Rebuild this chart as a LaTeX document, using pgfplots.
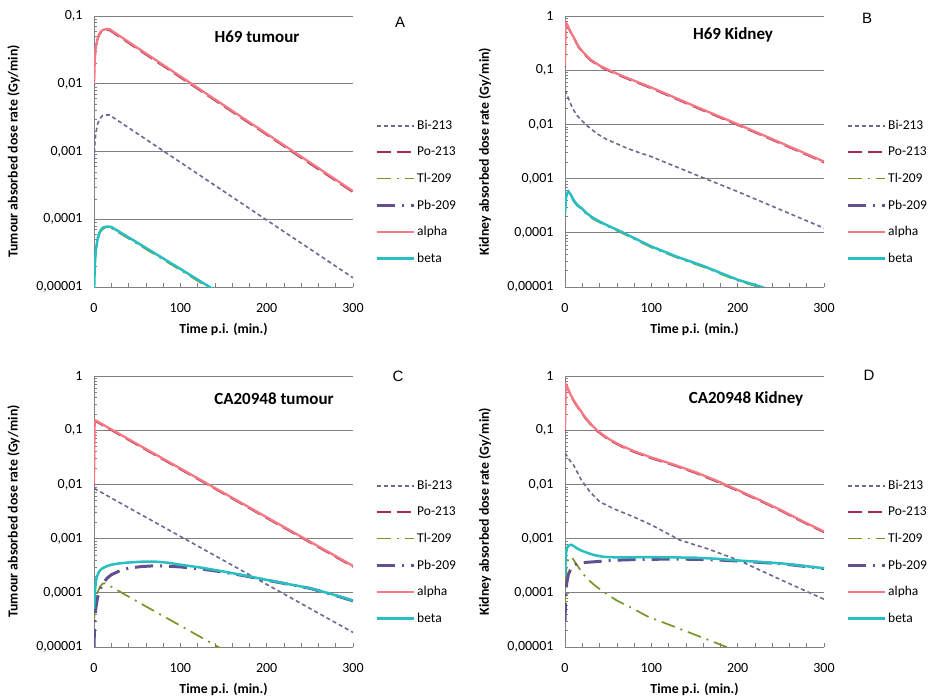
\documentclass[border=0pt]{standalone}
\usepackage{fontspec}
\setmainfont{Carlito}
\newfontfamily\letterfont{Liberation Sans}
\usepackage{pgfplots}
\pgfplotsset{compat=1.18}
\definecolor{biC}{RGB}{105,105,145}
\definecolor{poC}{RGB}{165,40,85}
\definecolor{tlC}{RGB}{120,150,40}
\definecolor{pbC}{RGB}{100,80,145}
\definecolor{alC}{RGB}{245,120,130}
\definecolor{beC}{RGB}{40,190,195}
\definecolor{axC}{RGB}{128,128,128}
\pgfplotsset{
 sBi/.style={color=biC, line width=1.6pt, dash pattern=on 4pt off 3pt},
 sPo/.style={color=poC, line width=1.6pt, dash pattern=on 14pt off 6pt},
 sTl/.style={color=tlC, line width=1.7pt, dash pattern=on 14pt off 6pt on 2pt off 6pt},
 sPb/.style={color=pbC, line width=3pt, dash pattern=on 18pt off 7pt on 2pt off 7pt},
 sAl/.style={color=alC, line width=2.3pt},
 sBe/.style={color=beC, line width=2.5pt},
 every axis/.append style={
  width=259pt, height=271pt, scale only axis, anchor=south west,
  xmin=0, xmax=300,
  axis x line*=bottom, axis y line*=left,
  axis line style={color=axC, line width=0.8pt, -},
  xtick={0,20,...,300}, xticklabels={0,,,,,100,,,,,200,,,,,300},
  tick align=inside, major tick length=4pt, minor tick length=3pt,
  tick style={color=axC, line width=0.6pt},
  ymajorgrids, major grid style={color=axC, line width=0.8pt},
  ticklabel style={font=\fontsize{14}{16}\selectfont},
  yticklabel style={xshift=-8pt},
  xticklabel style={yshift=-13pt},
  label style={font=\bfseries\fontsize{13.8}{16}\selectfont},
  xlabel style={at={(axis description cs:0.5,-0.155)}, anchor=center},
  ylabel style={at={(axis description cs:-0.31,0.5)}, anchor=center},
  legend style={draw=none, fill=none, at={(axis description cs:1.085,0.623)}, anchor=north west,
    font=\fontsize{13.5}{15}\selectfont, row sep=11.8pt, inner sep=0pt},
  legend cell align=left,
 },
}
\begin{document}
\begin{tikzpicture}
\path[use as bounding box] (0,0) rectangle (929pt,699pt);
% ---------------- A ----------------
\begin{axis}[ymode=log, at={(94pt,412pt)},
  legend image code/.code={\draw[#1] (0pt,0pt) -- (37pt,0pt);},
  ymin=1e-5, ymax=1e-1,
  ytick={1e-5,1e-4,1e-3,1e-2,1e-1},
  yticklabels={{0,00001},{0,0001},{0,001},{0,01},{0,1}},
  minor ytick={2e-5,3e-5,4e-5,5e-5,6e-5,7e-5,8e-5,9e-5,2e-4,3e-4,4e-4,5e-4,6e-4,7e-4,8e-4,9e-4,2e-3,3e-3,4e-3,5e-3,6e-3,7e-3,8e-3,9e-3,2e-2,3e-2,4e-2,5e-2,6e-2,7e-2,8e-2,9e-2},
  xlabel={Time p.i. (min.)}, ylabel={Tumour absorbed dose rate (Gy/min)}]
\addplot[sBi] coordinates {(0,0.0006)(1,0.0013)(2,0.0018)(4,0.0025)(6,0.0029)(8,0.0032)(10,0.0034)(14,0.00345)(18,0.00346)(25,0.00301)(50,0.00185)(100,0.000692)(150,0.00026)(200,0.0000973)(250,0.0000365)(300,0.0000137)};
\addplot[sPo] coordinates {(0,0.0096)(1,0.023)(2,0.0326)(4,0.0442)(6,0.0518)(8,0.0566)(10,0.0595)(14,0.0614)(18,0.0614)(25,0.0534)(50,0.0327)(100,0.01235)(150,0.00466)(200,0.00176)(250,0.00066)(300,0.00025)};
\addplot[sTl] coordinates {(0,0.0000077)(1,0.0000211)(2,0.0000326)(4,0.000048)(6,0.0000595)(8,0.0000672)(11,0.000073)(15,0.0000749)(20,0.0000739)(50,0.0000435)(100,0.0000178)(135,0.0000094)(150,0.0000072)};
\addplot[sPb] coordinates {(0,0.0000001)(5,0.0000015)(20,0.000003)(100,0.000003)(300,0.000002)};
\addplot[sAl] coordinates {(0,0.010)(1,0.024)(2,0.034)(4,0.046)(6,0.054)(8,0.059)(10,0.062)(14,0.064)(18,0.064)(25,0.0556)(50,0.0341)(100,0.01286)(150,0.00485)(200,0.00183)(250,0.00069)(300,0.00026)};
\addplot[sBe] coordinates {(0,0.000008)(1,0.000022)(2,0.000034)(4,0.00005)(6,0.000062)(8,0.00007)(11,0.000076)(15,0.000078)(20,0.000077)(50,0.0000453)(100,0.0000185)(135,0.0000098)(150,0.0000075)};
\legend{Bi-213,Po-213,Tl-209,Pb-209,alpha,beta}
\end{axis}
% ---------------- B ----------------
\begin{axis}[ymode=log, at={(565pt,412pt)},
  legend image code/.code={\draw[#1] (0pt,0pt) -- (37pt,0pt);},
  ymin=1e-5, ymax=1,
  ytick={1e-5,1e-4,1e-3,1e-2,1e-1,1},
  yticklabels={{0,00001},{0,0001},{0,001},{0,01},{0,1},{1}},
  minor ytick={2e-5,3e-5,4e-5,5e-5,6e-5,7e-5,8e-5,9e-5,2e-4,3e-4,4e-4,5e-4,6e-4,7e-4,8e-4,9e-4,2e-3,3e-3,4e-3,5e-3,6e-3,7e-3,8e-3,9e-3,2e-2,3e-2,4e-2,5e-2,6e-2,7e-2,8e-2,9e-2,0.2,0.3,0.4,0.5,0.6,0.7,0.8,0.9},
  xlabel={Time p.i. (min.)}, ylabel={Kidney absorbed dose rate (Gy/min)}]
\addplot[sBi] coordinates {(0,0.043)(2,0.036)(4,0.030)(6,0.025)(8,0.021)(10,0.0184)(14,0.0145)(19,0.012)(24,0.0099)(29,0.0085)(38,0.0066)(48,0.0053)(60,0.0044)(72,0.00363)(85,0.00305)(100,0.00254)(150,0.0012)(200,0.000575)(250,0.000265)(300,0.000122)};
\addplot[sPo] coordinates {(0,0.115)(0.5,0.48)(1,0.72)(2,0.69)(4,0.595)(6,0.509)(8,0.442)(10,0.394)(13,0.317)(16,0.259)(20,0.216)(25,0.178)(30,0.149)(40,0.117)(50,0.098)(62,0.0806)(75,0.0662)(87,0.0557)(100,0.0461)(150,0.0209)(200,0.0097)(250,0.0044)(300,0.00198)};
\addplot[sTl] coordinates {(0,0.000221)(1,0.000403)(2,0.000499)(4,0.000557)(6,0.000509)(8,0.000442)(10,0.000384)(14,0.000317)(19,0.000274)(25,0.000221)(32,0.000182)(40,0.000156)(50,0.00013)(65,0.000101)(80,0.0000768)(100,0.0000538)(130,0.0000346)(160,0.0000235)(200,0.0000131)(228,0.0000096)(250,0.000007)};
\addplot[sPb] coordinates {(0,0.000001)(300,0.000001)};
\addplot[sAl] coordinates {(0,0.12)(0.5,0.5)(1,0.75)(2,0.72)(4,0.62)(6,0.53)(8,0.46)(10,0.41)(13,0.33)(16,0.27)(20,0.225)(25,0.185)(30,0.155)(40,0.122)(50,0.102)(62,0.084)(75,0.069)(87,0.058)(100,0.048)(150,0.0218)(200,0.0101)(250,0.00458)(300,0.00206)};
\addplot[sBe] coordinates {(0,0.00023)(1,0.00042)(2,0.00052)(4,0.00058)(6,0.00053)(8,0.00046)(10,0.0004)(14,0.00033)(19,0.000285)(25,0.00023)(32,0.00019)(40,0.000162)(50,0.000135)(65,0.000105)(80,0.00008)(100,0.000056)(130,0.000036)(160,0.0000245)(200,0.0000136)(228,0.00001)(250,0.0000073)};
\legend{Bi-213,Po-213,Tl-209,Pb-209,alpha,beta}
\end{axis}
% ---------------- C ----------------
\begin{axis}[ymode=log, at={(94pt,52pt)},
  legend image code/.code={\draw[#1] (0pt,0pt) -- (37pt,0pt);},
  ymin=1e-5, ymax=1,
  ytick={1e-5,1e-4,1e-3,1e-2,1e-1,1},
  yticklabels={{0,00001},{0,0001},{0,001},{0,01},{0,1},{1}},
  minor ytick={2e-5,3e-5,4e-5,5e-5,6e-5,7e-5,8e-5,9e-5,2e-4,3e-4,4e-4,5e-4,6e-4,7e-4,8e-4,9e-4,2e-3,3e-3,4e-3,5e-3,6e-3,7e-3,8e-3,9e-3,2e-2,3e-2,4e-2,5e-2,6e-2,7e-2,8e-2,9e-2,0.2,0.3,0.4,0.5,0.6,0.7,0.8,0.9},
  xlabel={Time p.i. (min.)}, ylabel={Tumour absorbed dose rate (Gy/min)}]
\addplot[sBi] coordinates {(0,0.0084)(1,0.0083)(50,0.00304)(100,0.0011)(150,0.000397)(200,0.000143)(250,0.0000516)(300,0.0000186)};
\addplot[sPo] coordinates {(0,0.0096)(0.5,0.096)(1,0.147)(2,0.145)(50,0.0533)(100,0.0189)(150,0.00672)(200,0.00238)(250,0.000848)(300,0.0003)};
\addplot[sTl] coordinates {(0,0.00003)(1,0.00005)(2,0.00007)(4,0.0001)(7,0.00013)(10,0.000148)(13,0.00015)(50,0.000069)(100,0.0000248)(144,0.00001)(160,0.0000073)};
\addplot[sPb] coordinates {(0,0.00001)(0.5,0.00002)(1,0.00003)(2,0.00005)(4,0.00008)(7,0.000115)(10,0.000145)(15,0.000185)(20,0.000215)(30,0.000255)(40,0.000285)(55,0.000305)(70,0.000315)(85,0.00031)(100,0.0003)(125,0.000275)(150,0.00024)(175,0.000205)(200,0.000171)(225,0.000144)(250,0.000121)(275,0.000094)(300,0.000071)};
\addplot[sAl] coordinates {(0,0.01)(0.5,0.1)(1,0.153)(2,0.151)(50,0.0555)(100,0.0197)(150,0.0070)(200,0.00248)(250,0.000883)(300,0.000313)};
\addplot[sBe] coordinates {(0,0.00005)(1,0.0001)(2,0.00015)(3,0.00019)(5,0.00023)(7,0.00026)(10,0.000285)(15,0.00031)(20,0.00033)(30,0.00035)(40,0.000362)(55,0.000375)(70,0.000377)(85,0.00036)(100,0.00033)(125,0.00029)(150,0.000247)(175,0.000208)(200,0.000173)(225,0.000145)(250,0.000122)(275,0.000095)(300,0.000072)};
\legend{Bi-213,Po-213,Tl-209,Pb-209,alpha,beta}
\end{axis}
% ---------------- D ----------------
\begin{axis}[ymode=log, at={(565pt,52pt)},
  legend image code/.code={\draw[#1] (0pt,0pt) -- (37pt,0pt);},
  ymin=1e-5, ymax=1,
  ytick={1e-5,1e-4,1e-3,1e-2,1e-1,1},
  yticklabels={{0,00001},{0,0001},{0,001},{0,01},{0,1},{1}},
  minor ytick={2e-5,3e-5,4e-5,5e-5,6e-5,7e-5,8e-5,9e-5,2e-4,3e-4,4e-4,5e-4,6e-4,7e-4,8e-4,9e-4,2e-3,3e-3,4e-3,5e-3,6e-3,7e-3,8e-3,9e-3,2e-2,3e-2,4e-2,5e-2,6e-2,7e-2,8e-2,9e-2,0.2,0.3,0.4,0.5,0.6,0.7,0.8,0.9},
  xlabel={Time p.i. (min.)}, ylabel={Kidney absorbed dose rate (Gy/min)}]
\addplot[sBi] coordinates {(0,0.038)(2,0.034)(4,0.030)(7,0.026)(10,0.0227)(14,0.017)(19,0.012)(24,0.0093)(29,0.0073)(35,0.0058)(40,0.0048)(50,0.004)(60,0.00337)(80,0.0025)(100,0.00179)(133,0.00094)(165,0.00065)(200,0.000405)(250,0.000174)(300,0.000076)};
\addplot[sPo] coordinates {(0,0.096)(0.5,0.432)(1,0.672)(2,0.634)(4,0.538)(6,0.451)(9,0.365)(13,0.288)(18,0.221)(23,0.169)(30,0.125)(37,0.096)(45,0.0768)(52,0.0643)(65,0.0499)(80,0.0394)(100,0.0301)(125,0.0226)(150,0.0164)(175,0.0113)(200,0.00756)(225,0.005)(250,0.00324)(275,0.00202)(300,0.0013)};
\addplot[sTl] coordinates {(0,0.00005)(1,0.0002)(2,0.00033)(4,0.00043)(6,0.00046)(8,0.00045)(12,0.00036)(18,0.00026)(25,0.000185)(35,0.000135)(44,0.000106)(60,0.000072)(80,0.00005)(95,0.000037)(120,0.000026)(150,0.000017)(187,0.00001)(200,0.0000085)};
\addplot[sPb] coordinates {(0,0.00003)(0.5,0.00006)(1,0.0001)(2,0.00015)(4,0.00022)(7,0.00028)(10,0.00032)(15,0.00035)(25,0.000365)(40,0.00038)(60,0.0004)(80,0.00041)(100,0.000415)(125,0.000418)(150,0.000415)(175,0.000405)(200,0.000385)(250,0.000345)(300,0.00028)};
\addplot[sAl] coordinates {(0,0.1)(0.5,0.45)(1,0.7)(2,0.66)(4,0.56)(6,0.47)(9,0.38)(13,0.30)(18,0.23)(23,0.176)(30,0.13)(37,0.1)(45,0.08)(52,0.067)(65,0.052)(80,0.041)(100,0.0314)(125,0.0235)(150,0.0171)(175,0.0118)(200,0.00788)(225,0.0052)(250,0.00337)(275,0.0021)(300,0.00135)};
\addplot[sBe] coordinates {(0,0.0002)(1,0.0005)(2,0.00065)(4,0.00074)(7,0.00077)(10,0.00073)(14,0.00066)(18,0.00061)(24,0.00056)(33,0.0005)(45,0.00046)(60,0.00045)(100,0.000455)(150,0.000445)(175,0.000425)(200,0.000395)(250,0.00035)(300,0.000284)};
\legend{Bi-213,Po-213,Tl-209,Pb-209,alpha,beta}
\end{axis}
% titles and panel letters
\node[font=\bfseries\fontsize{17}{19}\selectfont] at (257pt,662pt) {H69 tumour};
\node[font=\bfseries\fontsize{17}{19}\selectfont] at (733pt,664pt) {H69 Kidney};
\node[font=\bfseries\fontsize{17}{19}\selectfont] at (274pt,300pt) {CA20948 tumour};
\node[font=\bfseries\fontsize{17}{19}\selectfont] at (746pt,300pt) {CA20948 Kidney};
\node[font=\letterfont\fontsize{15}{17}\selectfont] at (400pt,677pt) {A};
\node[font=\letterfont\fontsize{15}{17}\selectfont] at (867pt,681pt) {B};
\node[font=\letterfont\fontsize{15}{17}\selectfont] at (398pt,323pt) {C};
\node[font=\letterfont\fontsize{15}{17}\selectfont] at (869pt,324pt) {D};
\end{tikzpicture}
\end{document}
